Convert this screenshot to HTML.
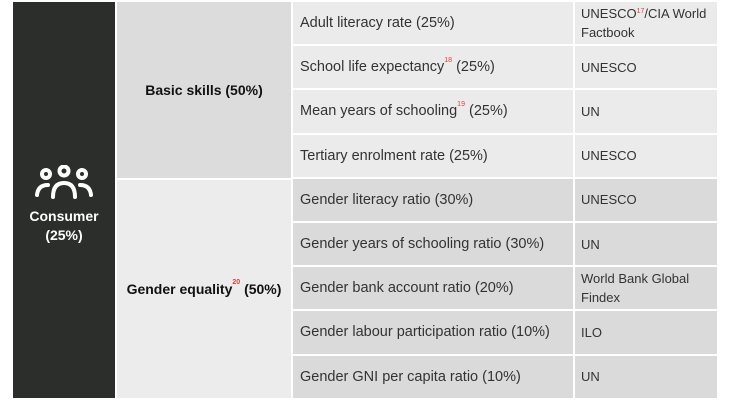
<!DOCTYPE html>
<html><head><meta charset="utf-8"><style>
body{margin:0;width:730px;height:400px;background:#fff;overflow:hidden;font-family:"Liberation Sans",sans-serif;}
.c{position:absolute;box-sizing:border-box;display:flex;align-items:center;}
.ind{font-size:14.5px;color:#333;padding-left:7px;}
.src{font-size:13px;color:#333;padding-left:6px;line-height:19px;}
sup{color:#d9413b;font-size:7px;vertical-align:top;position:relative;top:-2px;}
.b{font-weight:bold;font-size:14px;color:#111;justify-content:center;}
</style></head><body>
<div class="c" style="left:13px;top:2px;width:102px;height:396px;background:#2c2e2c;flex-direction:column;justify-content:center;color:#fff;font-weight:bold;font-size:14px;text-align:center;">
<svg width="60" height="36" viewBox="0 0 60 36" style="margin-top:10px"><g fill="none" stroke="#fff" stroke-width="4" stroke-linecap="round"><circle cx="12" cy="9" r="4"/><circle cx="30" cy="6" r="4.5"/><circle cx="48" cy="9" r="4"/><path d="M3 30 Q4 20 14 20"/><path d="M46 20 Q56 20 57 30"/><path d="M19 32 Q19 18 30 18 Q41 18 41 32"/></g></svg>
<div style="margin-top:6px;line-height:19px">Consumer<br>(25%)</div></div>
<div class="c b" style="left:117px;top:2px;width:174px;height:176px;background:#dcdcdc;"><span>Basic skills (50%)</span></div>
<div class="c b" style="left:117px;top:180px;width:174px;height:218px;background:#ececec;"><span>Gender equality<sup>20</sup> (50%)</span></div>
<div id="rows"></div>
<script>
const indicators=["Adult literacy rate (25%)","School life expectancy<sup>18</sup> (25%)","Mean years of schooling<sup>19</sup> (25%)","Tertiary enrolment rate (25%)","Gender literacy ratio (30%)","Gender years of schooling ratio (30%)","Gender bank account ratio (20%)","Gender labour participation ratio (10%)","Gender GNI per capita ratio (10%)"];
const sources=["UNESCO<sup>17</sup>/CIA World Factbook","UNESCO","UN","UNESCO","UNESCO","UN","World Bank Global Findex","ILO","UN"];
const rows=document.getElementById('rows');
indicators.forEach((t,i)=>{
const top=2+i*44.2, bg=i<4?'#ebebeb':'#dadada';
const a=document.createElement('div');a.className='c ind';


a.style.cssText=`left:293px;top:${top}px;width:280px;height:42.2px;background:${bg}`;a.innerHTML='<span>'+t+'</span>';rows.appendChild(a);
const b=document.createElement('div');b.className='c src';


b.style.cssText=`left:575px;top:${top}px;width:142px;height:42.2px;background:${bg}`;b.innerHTML='<span>'+sources[i]+'</span>';rows.appendChild(b);
});
</script>
</body></html>
